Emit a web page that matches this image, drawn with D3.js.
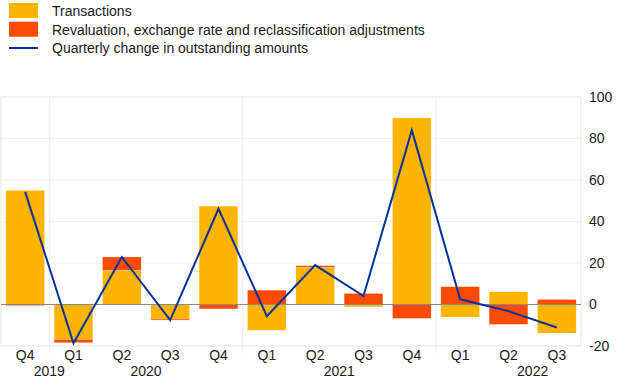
<!DOCTYPE html>
<html><head><meta charset="utf-8">
<script src="https://cdn.jsdelivr.net/npm/d3@7"></script>
<style>body{margin:0;background:#fff}svg{display:block;font-family:"Liberation Sans",Arial,sans-serif}</style>
</head><body>
<svg id="c" width="620" height="387"></svg>
<script>
const quarters = ["Q4","Q1","Q2","Q3","Q4","Q1","Q2","Q3","Q4","Q1","Q2","Q3"];
const years    = ["2019","2020","2020","2020","2020","2021","2021","2021","2021","2022","2022","2022"];
const transactions = [55, -16.8, 16.5, -7.0, 47.4, -12.4, 18.0, -1.1, 89.9, -6.0, 6.1, -13.8];
const revaluation  = [-0.5, -1.6, 6.4, -0.5, -2.1, 6.9, 0.7, 5.3, -6.7, 8.6, -9.6, 2.4];
const quarterlyChange = [54.3, -18.7, 22.9, -7.5, 46.1, -5.6, 19.0, 4.1, 84.0, 2.5, -3.2, -11.1];
const yTicks = [-20, 0, 20, 40, 60, 80, 100];
const seriesNames = ["Transactions","Revaluation, exchange rate and reclassification adjustments","Quarterly change in outstanding amounts"];
const colors = ["#FFB400","#FF4B00","#003299"];

(function(){
const svg = d3.select("#c");
const pL = 1, pR = 581, pT = 97, pB = 346;
const textColor = "#1a1a1a";
const ids = quarters.map((q,i)=>i);
const x = d3.scaleBand().domain(ids).range([pL,pR]).paddingInner(0.2).paddingOuter(0.1);
const y = d3.scaleLinear().domain([-20,100]).range([pB, pT]);
const step = x.step();
const boundary = k => pL + k*step;

// horizontal gridlines
svg.append("g").selectAll("line").data(yTicks.filter(t=>t!==0)).join("line")
  .attr("x1",pL).attr("x2",pR).attr("y1",d=>y(d)).attr("y2",d=>y(d))
  .attr("stroke",d=> (d===100||d===-20)?"#e4e4e4":"#efefef").attr("stroke-width",1);
svg.append("line").attr("x1",pL).attr("x2",pL).attr("y1",pT).attr("y2",pB).attr("stroke","#e4e4e4");
svg.append("line").attr("x1",pR).attr("x2",pR).attr("y1",pT).attr("y2",pB).attr("stroke","#e4e4e4");

// year separators
const yearStarts = ids.filter(i=>i>0 && years[i]!==years[i-1]);
svg.append("g").selectAll("line").data(yearStarts).join("line")
  .attr("x1",d=>boundary(d)).attr("x2",d=>boundary(d)).attr("y1",pT).attr("y2",pB+7)
  .attr("stroke","#ececec");

// stacked bars (diverging)
const rows = ids.map(i=>({i, t:transactions[i], r:revaluation[i]}));
const stack = d3.stack().keys(["t","r"]).offset(d3.stackOffsetDiverging);
const layers = stack(rows);
svg.append("g").selectAll("g").data(layers).join("g")
  .attr("fill",(d,k)=>colors[k])
  .selectAll("rect").data(d=>d).join("rect")
  .attr("x",d=>x(d.data.i)).attr("width",x.bandwidth())
  .attr("y",d=>y(Math.max(d[0],d[1]))).attr("height",d=>Math.abs(y(d[0])-y(d[1])))
  .attr("stroke","#fff").attr("stroke-opacity",0.35).attr("stroke-width",0.6);

// zero line
svg.append("line").attr("x1",pL).attr("x2",pR).attr("y1",y(0)).attr("y2",y(0)).attr("stroke","#8a8a8a").attr("stroke-width",1);

// line
svg.append("path").datum(quarterlyChange)
  .attr("fill","none").attr("stroke",colors[2]).attr("stroke-width",2)
  .attr("d",d3.line().x((d,i)=>x(i)+x.bandwidth()/2).y(d=>y(d)));

// y axis right
const ya = svg.append("g").attr("transform",`translate(${pR+8},0)`)
  .call(d3.axisRight(y).tickValues(yTicks).tickFormat(d=>String(d)).tickSize(0).tickPadding(0));
ya.select(".domain").remove();
ya.selectAll("text").attr("font-size",14).attr("fill",textColor).attr("font-family","Liberation Sans, Arial, sans-serif");

// x labels
const xa = svg.append("g").attr("transform",`translate(0,${pB})`)
  .call(d3.axisBottom(x).tickFormat(i=>quarters[i]).tickSize(0).tickPadding(4));
xa.select(".domain").remove();
xa.selectAll("text").attr("font-size",14).attr("fill",textColor).attr("font-family","Liberation Sans, Arial, sans-serif");

// year labels
const uniqYears = Array.from(new Set(years));
const yearPos = uniqYears.map(yr=>{
  const idx = ids.filter(i=>years[i]===yr);
  const n = idx.length;
  const first = idx[0];
  const start = (n<4 && first===0) ? idx[n-1]+1-4 : first;
  let c = start + 2;
  if (c < 1) c = idx[n-1]+1;
  return {yr, c};
});
svg.append("g").selectAll("text").data(yearPos).join("text")
  .attr("x",d=>boundary(d.c)).attr("y",376)
  .attr("text-anchor","middle").attr("font-size",14).attr("fill",textColor).text(d=>d.yr);

// legend
const lg = svg.append("g");
[0,1].forEach(k=>{
  lg.append("rect").attr("x",9).attr("y",3+k*18.7).attr("width",29).attr("height",15).attr("fill",colors[k]);
});
lg.append("line").attr("x1",9).attr("x2",38).attr("y1",48).attr("y2",48).attr("stroke",colors[2]).attr("stroke-width",2);
seriesNames.forEach((s,k)=>{
  lg.append("text").attr("x",52).attr("y",16+k*18.6).attr("font-size",14).attr("fill",textColor).text(s);
});
})();
</script>
</body></html>
